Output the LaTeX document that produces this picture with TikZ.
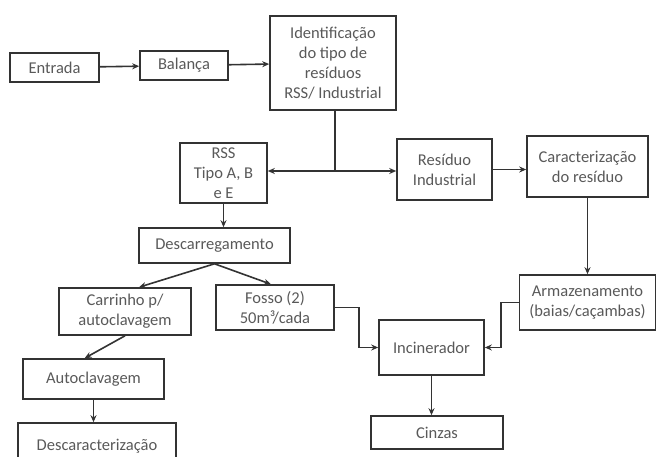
\documentclass[tikz,border=0pt]{standalone}
\usepackage{fontspec}
\setmainfont{Carlito}
\usetikzlibrary{arrows.meta}

\begin{document}
\begin{tikzpicture}[x=1pt,y=-1pt,
	box/.style={draw=black!80,line width=1.6pt,text=black!65,align=center,inner sep=0pt,
		font=\fontsize{16.5}{20}\selectfont},
	seta/.style={draw=black!80,line width=1.6pt,-{Stealth[length=7pt,width=6pt]}},
	linha/.style={draw=black!80,line width=1.6pt}]
	\useasboundingbox (0,0) rectangle (657,457);
	% caixas
	\node[box,minimum width=89pt,minimum height=29pt] (entrada) at (54.5,67.5) {Entrada};
	\node[box,minimum width=88pt,minimum height=29pt] (balanca) at (184,65.5) {Balança};
	\node[box,minimum width=126pt,minimum height=94pt] (ident) at (333,63) {Identificação\\do tipo de\\resíduos\\RSS/ Industrial};
	\node[box,minimum width=87pt,minimum height=60pt] (rss) at (223.5,173) {RSS\\Tipo A, B\\e E};
	\node[box,minimum width=95pt,minimum height=61pt] (residuo) at (444.5,169.5) {Resíduo\\Industrial};
	\node[box,minimum width=121pt,minimum height=61pt] (caract) at (587.5,166.5) {Caracterização\\do resíduo};
	\node[box,minimum width=136pt,minimum height=55pt] (armaz) at (587.5,302.5) {Armazenamento\\(baias/caçambas)};
	\node[box,minimum width=151pt,minimum height=35pt] (descarr) at (214.5,245.5) {Descarregamento};
	\node[box,minimum width=132pt,minimum height=47pt] (carrinho) at (125,311.5) {Carrinho p/\\autoclavagem};
	\node[box,minimum width=118pt,minimum height=45pt] (fosso) at (275,307.5) {Fosso (2)\\50m³/cada};
	\node[box,minimum width=105pt,minimum height=55pt] (incin) at (431.5,347.5) {Incinerador};
	\node[box,minimum width=132pt,minimum height=33pt] (cinzas) at (437,432.5) {Cinzas};
	\node[box,minimum width=141pt,minimum height=40pt] (autocl) at (93.5,379) {Autoclavagem};
	\node[box,minimum width=158pt,minimum height=47pt] (descar) at (97,446.5) {Descaracterização};
	% ligacoes
	\coordinate (divisao) at (335,171);
	\draw[seta] (entrada) -- (balanca);
	\draw[seta] (balanca) -- (ident);
	\draw[linha] (ident.south -| divisao) -- (divisao);
	\draw[seta] (divisao) -- (divisao -| rss.east);
	\draw[seta] (divisao) -- (divisao -| residuo.west);
	\draw[seta] (residuo) -- (residuo -| caract.west);
	\draw[seta] (caract.south) -- (caract.south |- armaz.north);
	\draw[seta] (rss.south) -- (rss.south |- descarr.north);
	\draw[seta] (descarr.south) -- (carrinho.60);
	\draw[seta] (descarr.south) -- (fosso.100);
	\draw[seta] (carrinho.south) -- (autocl.113);
	\draw[seta] (autocl.south) -- (autocl.south |- descar.north);
	\draw[seta] (fosso.east) -- ++(24,0) |- (incin.west);
	\draw[seta] (armaz.west) -- ++(-18,0) |- (incin.east);
	\draw[seta] (incin.south) -- (incin.south |- cinzas.north);
\end{tikzpicture}
\end{document}
